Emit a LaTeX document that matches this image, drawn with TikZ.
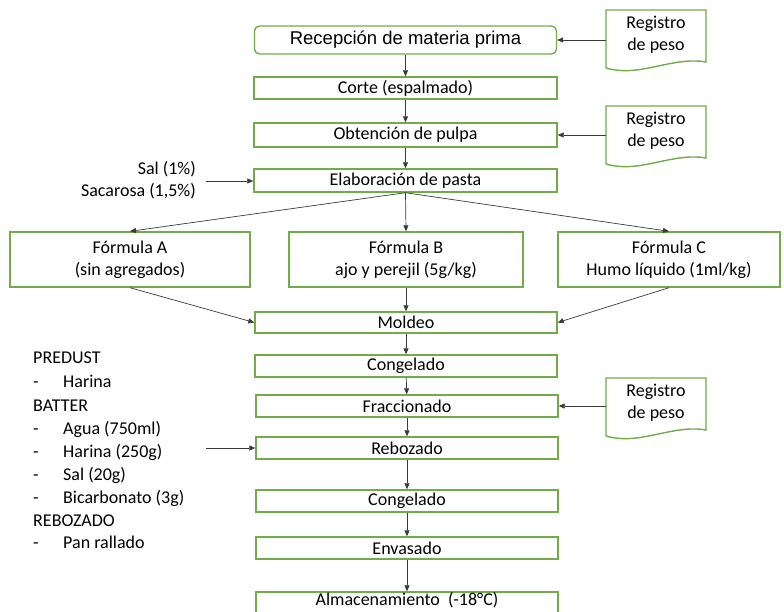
\documentclass[tikz,border=0pt]{standalone}
\usepackage{fontspec}
\setmainfont{Carlito}
\newfontfamily\arialf{Liberation Sans}
\usetikzlibrary{arrows.meta}
\definecolor{grn}{HTML}{70AD47}
\definecolor{arr}{HTML}{3A3A3A}
\newcommand\docshape[2]{\draw[docline] (#1,#2+58) -- (#1,#2) -- (#1+100,#2) -- (#1+100,#2+52) .. controls (#1+66,#2+46) and (#1+34,#2+68) .. (#1,#2+58);}
\begin{document}
\begin{tikzpicture}[x=1pt,y=-1pt,
  box/.style={draw=grn, line width=1.4pt, inner sep=0pt, minimum height=22pt, minimum width=302pt,
    font=\fontsize{18}{22}\selectfont, align=center},
  docline/.style={draw=grn, line width=1.4pt},
  doctxt/.style={inner sep=0pt, minimum width=100pt, minimum height=40pt, align=center,
    font=\fontsize{18}{22}\selectfont},
  lbl/.style={inner sep=0pt, font=\fontsize{18}{22}\selectfont},
  conn/.style={draw=arr, line width=0.7pt, -{Triangle[length=6pt,width=5pt]}}]
\useasboundingbox (0,0) rectangle (784,611);
\fill[white] (0,0) rectangle (784,611);

% main boxes
\node[box, rounded corners=5pt, minimum height=28pt, font=\arialf\fontsize{18.5}{22}\selectfont] (rec) at (405.5,40) {Recepción de materia prima};
\node[box, minimum width=303pt] (corte) at (405.5,88) {Corte (espalmado)};
\node[box, minimum width=303pt, minimum height=24pt] (obt) at (405.5,135) {Obtención de pulpa};
\node[box, minimum width=303pt, minimum height=23pt] (elab) at (405.5,180.5) {Elaboración de pasta};
\node[box, minimum width=240pt, minimum height=55pt] (fa) at (130,259.5) {Fórmula A\\(sin agregados)};
\node[box, minimum width=234pt, minimum height=55pt] (fb) at (406,259.5) {Fórmula B\\ajo y perejil (5g/kg)};
\node[box, minimum width=222pt, minimum height=55pt] (fc) at (669,259.5) {Fórmula C\\Humo líquido (1ml/kg)};
\node[box, minimum height=21pt] (mold) at (406,322.5) {Moldeo};
\node[box] (cong1) at (406,366) {Congelado};
\node[box] (frac) at (407,406) {Fraccionado};
\node[box] (reb) at (407,448) {Rebozado};
\node[box] (cong2) at (407,501) {Congelado};
\node[box] (env) at (407,548) {Envasado};
\node[box, text height=12.5pt, text depth=8.5pt] (alm) at (407,603) {Almacenamiento~ (-18°C)};

% documents
\docshape{606}{10}
\node[doctxt] (r1) at (656,35) {Registro\\de peso};
\docshape{606}{106}
\node[doctxt] (r2) at (656,131) {Registro\\de peso};
\docshape{606}{378}
\node[doctxt] (r3) at (656,403) {Registro\\de peso};

% side texts
\node[lbl, anchor=base east] (sal1) at (196,174) {Sal (1\%)};
\node[lbl, anchor=base east] (sal2) at (196,196) {Sacarosa (1,5\%)};
\coordinate (salin) at (206,181);

\node[lbl, anchor=base west] (l1) at (33,363) {PREDUST};
\node[lbl, anchor=base west] (l2) at (33,387) {\makebox[30pt][l]{-}Harina};
\node[lbl, anchor=base west] (l3) at (33,411) {BATTER};
\node[lbl, anchor=base west] (l4) at (33,434) {\makebox[30pt][l]{-}Agua (750ml)};
\node[lbl, anchor=base west] (l5) at (33,457) {\makebox[30pt][l]{-}Harina (250g)};
\node[lbl, anchor=base west] (l6) at (33,480) {\makebox[30pt][l]{-}Sal (20g)};
\node[lbl, anchor=base west] (l7) at (33,503) {\makebox[30pt][l]{-}Bicarbonato (3g)};
\node[lbl, anchor=base west] (l8) at (33,526) {REBOZADO};
\node[lbl, anchor=base west] (l9) at (33,548) {\makebox[30pt][l]{-}Pan rallado};
\coordinate (batin) at (206,448);

% connectors
\draw[conn] (rec) -- (corte);
\draw[conn] (corte) -- (obt);
\draw[conn] (obt) -- (elab);
\draw[conn] (elab.south) -- (fa.north);
\draw[conn] (elab.south) -- (fb.north);
\draw[conn] (elab.south) -- (fc.north);
\draw[conn] (fa.south) -- (mold.west);
\draw[conn] (fb.south) -- (mold.north);
\draw[conn] (fc.south) -- (mold.east);
\draw[conn] (mold) -- (cong1);
\draw[conn] (cong1) -- (frac);
\draw[conn] (frac) -- (reb);
\draw[conn] (reb) -- (cong2);
\draw[conn] (cong2) -- (env);
\draw[conn] (env) -- (alm);
\draw[conn] (rec.east -| r1.west) -- (rec.east);
\draw[conn] (obt.east -| r2.west) -- (obt.east);
\draw[conn] (frac.east -| r3.west) -- (frac.east);
\draw[conn] (salin) -- (salin -| elab.west);
\draw[conn] (batin) -- (reb.west);
\end{tikzpicture}
\end{document}
